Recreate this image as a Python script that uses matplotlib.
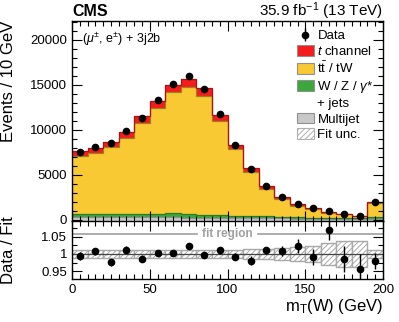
import matplotlib
matplotlib.use("Agg")
import matplotlib.pyplot as plt
import numpy as np
from matplotlib.patches import Patch
from matplotlib.ticker import MultipleLocator

plt.rcParams['font.family'] = ['Liberation Sans', 'DejaVu Sans']
plt.rcParams['mathtext.fontset'] = 'custom'
plt.rcParams['mathtext.rm'] = 'Liberation Sans'
plt.rcParams['mathtext.it'] = 'Liberation Sans:italic'
plt.rcParams['hatch.linewidth'] = 0.7

# m_T(W) bins, 10 GeV wide
edges = np.arange(0, 210, 10)
centers = edges[:-1] + 5

# data (events / 10 GeV)
data = [7560, 8030, 8480, 9890, 11330, 13260, 15080, 16000, 14560, 11780,
        8260, 5630, 3780, 2560, 1740, 1260, 920, 670, 440, 1920]

# fitted components
multijet = [250, 250, 240, 240, 240, 240, 240, 230, 220, 210,
            200, 180, 150, 130, 110, 100, 90, 80, 70, 120]
wjets = [380, 380, 370, 400, 400, 400, 450, 450, 350, 330,
         250, 230, 200, 170, 140, 120, 100, 90, 70, 150]
tchan = [550, 560, 600, 650, 700, 780, 880, 900, 850, 740,
         480, 400, 300, 220, 150, 110, 80, 60, 40, 120]
ttbar = [6420, 6780, 7480, 8480, 10140, 11790, 13460, 14080, 13180, 10380,
         7390, 4930, 3090, 2020, 1300, 940, 590, 450, 280, 1570]

# relative fit uncertainty and data error in the ratio
fit_unc = [0.0116, 0.0116, 0.0116, 0.0116, 0.0116, 0.0116, 0.0116, 0.0116, 0.0116, 0.0116,
           0.0107, 0.0136, 0.0145, 0.0174, 0.0203, 0.024, 0.0305, 0.036, 0.037, 0.011]
ratio_err = [0.011, 0.011, 0.011, 0.010, 0.009, 0.009, 0.008, 0.008, 0.008, 0.009,
             0.011, 0.012, 0.010, 0.015, 0.020, 0.023, 0.029, 0.037, 0.043, 0.022]

c_tch = '#f41c1c'
c_tt = '#f8c932'
c_wj = '#3aa83a'
c_mj = '#c8c8c8'

fig = plt.figure(figsize=(3.99, 3.22), dpi=100)
ax = fig.add_axes([0.1805, 0.3137, 0.7795, 0.6211])
ax2 = fig.add_axes([0.1805, 0.1335, 0.7795, 0.1802], sharex=ax)

comps = [(multijet, c_mj, '#909090'), (wjets, c_wj, '#2a7a2a'),
         (ttbar, c_tt, '#9a8224'), (tchan, c_tch, '#b01010')]
base = np.zeros(len(centers))
for vals, col, ecol in comps:
    top = base + np.array(vals)
    ax.stairs(top, edges, baseline=base, fill=True, color=col, lw=0)
    base = top
base = np.zeros(len(centers))
for vals, col, ecol in comps:
    base = base + np.array(vals)
    ax.stairs(base, edges, baseline=None, color=ecol, lw=0.9)
total = base

eb = ax.errorbar(centers, data, yerr=np.sqrt(data), fmt='o', color='black', ms=4.5,
                 elinewidth=1, capsize=0, zorder=5)

ax.set_xlim(0, 200)
ax.set_ylim(-150, 22100)
ax.yaxis.set_major_locator(MultipleLocator(5000))
ax.yaxis.set_minor_locator(MultipleLocator(1000))
ax.xaxis.set_major_locator(MultipleLocator(50))
ax.xaxis.set_minor_locator(MultipleLocator(5))
for a in (ax, ax2):
    a.tick_params(which='both', direction='in', top=True, right=True, labelsize=9.5)
    a.tick_params(which='major', length=7, width=0.8)
    a.tick_params(which='minor', length=3.5, width=0.8)
    for s in a.spines.values():
        s.set_linewidth(1.0)
ax.tick_params(labelbottom=False)
ax.set_ylabel('Events / 10 GeV', fontsize=12, loc='top')
ax.yaxis.set_label_coords(-0.18, 1.0)

ax.text(0.0, 1.025, 'CMS', transform=ax.transAxes, fontsize=11.5,
        fontweight='bold', ha='left', va='baseline')
ax.text(1.0, 1.025, r'35.9 fb$^{-1}$ (13 TeV)', transform=ax.transAxes,
        fontsize=11, ha='right', va='baseline')
ax.text(0.033, 0.95, r'($\mu^{\pm}$, e$^{\pm}$) + 3j2b', transform=ax.transAxes,
        fontsize=9, ha='left', va='top')

handles = [
    eb,
    Patch(facecolor=c_tch, edgecolor='#909090', lw=0.8),
    Patch(facecolor=c_tt, edgecolor='#909090', lw=0.8),
    Patch(facecolor=c_wj, edgecolor='#909090', lw=0.8),
    Patch(facecolor='none', edgecolor='none'),
    Patch(facecolor=c_mj, edgecolor='#909090', lw=0.8),
    Patch(facecolor='white', edgecolor='#b0b0b0', hatch='//////', lw=0.8),
]
labels = ['Data', r'$\it{t}$ channel', r't$\bar{\rm t}$ / tW', r'W / Z / $\gamma$*',
          '+ jets', 'Multijet', 'Fit unc.']
leg = ax.legend(handles, labels, loc='upper left', bbox_to_anchor=(0.7235, 0.957),
                frameon=False, fontsize=9.5, handlelength=1.25, handleheight=0.85,
                handletextpad=0.3, labelspacing=0.2, borderaxespad=0, borderpad=0)

# ratio panel
ratio = np.array(data) / total
ax2.bar(edges[:-1], 2 * np.array(fit_unc), bottom=1 - np.array(fit_unc), width=10,
        align='edge', facecolor='white', edgecolor='#a8a8a8', hatch='//////', lw=1.0)
ax2.axhline(1, color='#444444', lw=0.9)
ax2.errorbar(centers, ratio, yerr=ratio_err, fmt='o', color='black', ms=4.5,
             elinewidth=1, capsize=0, zorder=5)
ax2.plot([0, 80.5], [1.057, 1.057], color='#a0a0a0', lw=1.2)
ax2.plot([119.5, 200], [1.057, 1.057], color='#a0a0a0', lw=1.2)
ax2.text(100, 1.057, 'fit region', color='#a0a0a0', fontsize=8.5, fontweight='bold',
         ha='center', va='center')
ax2.set_ylim(0.928, 1.095)
ax2.set_yticks([0.95, 1.0, 1.05])
ax2.set_yticklabels(['0.95', '1', '1.05'])
ax2.yaxis.set_minor_locator(MultipleLocator(0.025))
ax2.set_ylabel('Data / Fit', fontsize=12)
ax2.yaxis.set_label_coords(-0.18, 0.5)
ax2.set_xlabel(r'm$_{\rm T}$(W) (GeV)', fontsize=12, loc='right', labelpad=1)

fig.savefig('out.png', dpi=100)
